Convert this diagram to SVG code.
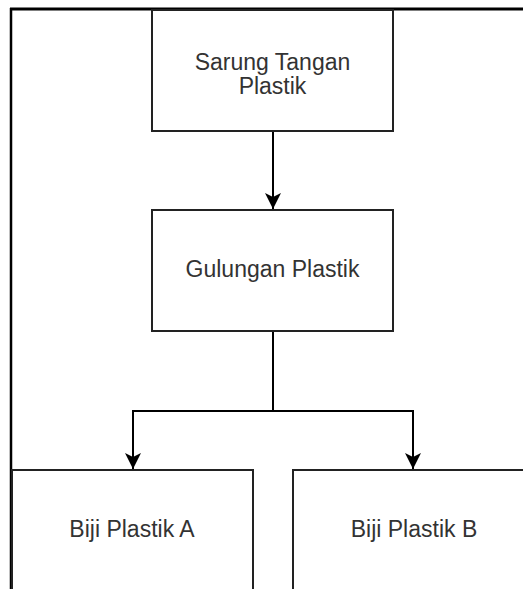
<svg xmlns="http://www.w3.org/2000/svg" width="523" height="589" viewBox="0 0 523 589">
  <style>
    .box { fill: #ffffff; stroke: #222222; stroke-width: 2; }
    .lbl { font-family: "Liberation Sans", Arial, sans-serif; font-size: 23px; fill: #333333; text-anchor: middle; }
    .conn { fill: none; stroke: #000000; stroke-width: 2; }
    .frame { fill: none; stroke: #000000; }
  </style>
  <defs>
    <marker id="arrow" viewBox="0 0 16 16" refX="16" refY="8" markerWidth="16" markerHeight="16" markerUnits="userSpaceOnUse" orient="auto">
      <path d="M0,0 L16,8 L0,16 L4,8 Z" fill="#000000"/>
    </marker>
  </defs>
  <rect width="523" height="589" fill="#ffffff"/>
  <g id="frame">
    <line class="frame" x1="10" y1="9" x2="523" y2="9" stroke-width="3"/>
    <line class="frame" x1="11" y1="8" x2="11" y2="589" stroke-width="2.5"/>
  </g>
  <g id="connectors">
    <path class="conn" d="M273,131 V209" marker-end="url(#arrow)"/>
    <path class="conn" d="M273,331 V411 H133 V469" marker-end="url(#arrow)"/>
    <path class="conn" d="M273,411 H413 V469" marker-end="url(#arrow)"/>
  </g>
  <g id="sarung">
    <rect class="box" x="152" y="10" width="241" height="121"/>
    <text class="lbl" x="272.5" y="70">Sarung Tangan</text>
    <text class="lbl" x="272.5" y="94">Plastik</text>
  </g>
  <g id="gulungan">
    <rect class="box" x="152" y="210" width="241" height="121"/>
    <text class="lbl" x="272.5" y="277">Gulungan Plastik</text>
  </g>
  <g id="bijiA">
    <rect class="box" x="12" y="470" width="241" height="140"/>
    <text class="lbl" x="132" y="537">Biji Plastik A</text>
  </g>
  <g id="bijiB">
    <rect class="box" x="293" y="470" width="241" height="140"/>
    <text class="lbl" x="414" y="537">Biji Plastik B</text>
  </g>
</svg>
